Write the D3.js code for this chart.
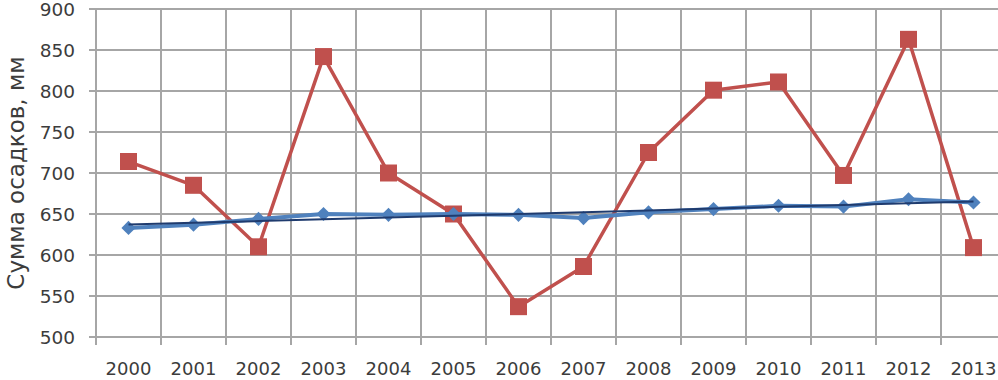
<!DOCTYPE html>
<html>
<head>
<meta charset="utf-8">
<script src="https://cdn.jsdelivr.net/npm/d3@7/dist/d3.min.js"></script>
<style>
  body { margin: 0; background: #fff; }
  svg { display: block; }
  text { font-family: "DejaVu Sans", sans-serif; fill: #3c3c3c; }
</style>
</head>
<body>
<div id="chart"></div>
<script>
// data
var years = ["2000", "2001", "2002", "2003", "2004", "2005", "2006",
             "2007", "2008", "2009", "2010", "2011", "2012", "2013"];
var yearlySum = [714, 685, 610, 842, 700, 650, 537, 586, 725, 801, 811, 697, 863, 609];
var runningMean = [633, 637, 644, 650, 649, 650, 649, 645, 652, 656, 660, 659, 668, 664];
var yTicks = [500, 550, 600, 650, 700, 750, 800, 850, 900];
var yTitle = "Сумма осадков, мм";

var W = 998, H = 380;

var svg = d3.select("#chart").append("svg")
	.attr("width", W)
	.attr("height", H);

var x = d3.scaleBand().domain(years).range([96, 1006]).padding(0);
var y = d3.scaleLinear().domain([500, 900]).range([337, 9]);
function cx(d, i){ return x(years[i]) + x.bandwidth() / 2; }

//GRID
svg.append("g").selectAll("line.h")
	.data(yTicks).enter().append("line")
	.attr("x1", 89).attr("x2", W)
	.attr("y1", function(d){ return y(d); })
	.attr("y2", function(d){ return y(d); })
	.attr("stroke", "#a6a6a6").attr("stroke-width", 2);

svg.append("g").selectAll("line.v")
	.data(years).enter().append("line")
	.attr("x1", function(d){ return x(d); })
	.attr("x2", function(d){ return x(d); })
	.attr("y1", y(900)).attr("y2", y(500) + 8)
	.attr("stroke", "#a6a6a6").attr("stroke-width", 2);

//AXIS LABELS
svg.append("g").selectAll("text")
	.data(yTicks).enter().append("text")
	.attr("x", 75)
	.attr("y", function(d){ return y(d); })
	.attr("dy", "0.36em")
	.attr("text-anchor", "end")
	.style("font-size", "18.5px")
	.text(function(d){ return d; });

svg.append("g").selectAll("text")
	.data(years).enter().append("text")
	.attr("x", function(d){ return x(d) + x.bandwidth() / 2; })
	.attr("y", 375)
	.attr("text-anchor", "middle")
	.style("font-size", "18px")
	.text(function(d){ return d; });

svg.append("text")
	.attr("transform", "translate(24,173) rotate(-90)")
	.attr("text-anchor", "middle")
	.style("font-size", "23px")
	.text(yTitle);

//RED SERIES
var line = d3.line().x(cx).y(function(d){ return y(d); });

svg.append("path")
	.datum(yearlySum)
	.attr("d", line)
	.attr("fill", "none")
	.attr("stroke", "#c0504d")
	.attr("stroke-width", 3.5)
	.attr("stroke-linejoin", "round");

svg.append("g").selectAll("path")
	.data(yearlySum).enter().append("path")
	.attr("d", d3.symbol().type(d3.symbolSquare).size(17 * 17))
	.attr("transform", function(d, i){ return "translate(" + cx(d, i) + "," + y(d) + ")"; })
	.attr("fill", "#c0504d");

//BLUE SERIES
svg.append("path")
	.datum(runningMean)
	.attr("d", line)
	.attr("fill", "none")
	.attr("stroke", "#4f81bd")
	.attr("stroke-width", 4)
	.attr("stroke-linejoin", "round");

svg.append("g").selectAll("path")
	.data(runningMean).enter().append("path")
	.attr("d", d3.symbol().type(d3.symbolSquare).size(10 * 10))
	.attr("transform", function(d, i){ return "translate(" + cx(d, i) + "," + y(d) + ") rotate(45)"; })
	.attr("fill", "#4f81bd");

//LINEAR TREND OF THE BLUE SERIES
var xs = d3.range(runningMean.length);
var mx = d3.mean(xs), my = d3.mean(runningMean);
var slope = d3.sum(xs, function(i){ return (i - mx) * (runningMean[i] - my); }) /
	d3.sum(xs, function(i){ return (i - mx) * (i - mx); });
var trend = xs.map(function(i){ return my + slope * (i - mx); });

svg.append("path")
	.datum(trend)
	.attr("d", line)
	.attr("fill", "none")
	.attr("stroke", "#1f3b6e")
	.attr("stroke-width", 2);
</script>
</body>
</html>
